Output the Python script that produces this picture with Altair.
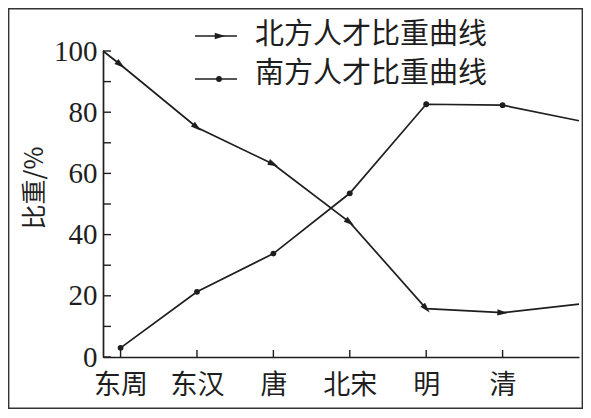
import json
import math
import altair as alt
import pandas as pd

# ---- data ----
categories = ["东周", "东汉", "唐", "北宋", "明", "清"]
# north series: starts at the y axis, then one value per category, then the right edge
north_start = 100
north_values = [95.5, 75, 63, 44, 15.8, 14.5]
north_end = 17.3
# south series: one value per category, then the right edge
south_values = [3, 21.3, 33.8, 53.5, 82.6, 82.3]
south_end = 77.2
y_ticks = [0, 10, 20, 30, 40, 50, 60, 70, 80, 90, 100]
y_labels = [0, 20, 40, 60, 80, 100]
legend_labels = ["北方人才比重曲线", "南方人才比重曲线"]
y_title = "比重/%"

# ---- layout ----
W, H = 476, 306
XMIN, XMAX = -0.23, len(categories)
INK = "#1e1e1e"
CJK = "Noto Sans CJK SC"
SERIF = "Liberation Serif"

px_x = W / (XMAX - XMIN)
px_y = H / 100.0

idx = list(range(len(categories)))
north_x = [XMIN] + idx + [XMAX]
north_y = [north_start] + north_values + [north_end]
north_df = pd.DataFrame({"x": north_x, "v": north_y})

# arrow markers at each category, pointing along the incoming segment
arrows = []
for k in range(1, len(idx) + 1):
    dx = (north_x[k] - north_x[k - 1]) * px_x
    dy = (north_y[k - 1] - north_y[k]) * px_y
    ang = math.degrees(math.atan2(dy, dx)) % 360
    arrows.append({"x": north_x[k], "v": north_y[k], "ang": ang})
arrow_df = pd.DataFrame(arrows)

south_df = pd.DataFrame({"x": idx + [XMAX], "v": south_values + [south_end]})
south_pts = pd.DataFrame({"x": idx, "v": south_values})

ytick_df = pd.DataFrame({"v": y_ticks})
xtick_df = pd.DataFrame({"x": idx})
one = pd.DataFrame({"a": [0]})

ARROW = "M-1,-0.6L1,0L-1,0.6Z"
ARROW_SIZE = 110

xscale = alt.Scale(domain=[XMIN, XMAX], nice=False, zero=False)
yscale = alt.Scale(domain=[0, 100], nice=False)

label_expr = json.dumps(categories, ensure_ascii=False) + "[datum.value]"

xaxis = alt.Axis(values=idx, labelExpr=label_expr, ticks=False, tickSize=0, grid=False,
                 domainColor=INK, domainWidth=1.7, labelFont=CJK, labelFontSize=27,
                 labelColor=INK, labelPadding=15, title=None, labelBaseline="top")
yaxis = alt.Axis(values=y_labels, ticks=False, tickSize=0, grid=False, domainColor=INK,
                 domainWidth=1.7, labelFont=SERIF, labelFontSize=29, labelColor=INK,
                 labelPadding=6, title=None, labelBaseline="middle")

X = alt.X("x:Q", scale=xscale, axis=xaxis)
Y = alt.Y("v:Q", scale=yscale, axis=yaxis)

north_line = alt.Chart(north_df).mark_line(color=INK, strokeWidth=1.7).encode(x=X, y=Y)
north_arrows = alt.Chart(arrow_df).mark_point(
    shape=ARROW, filled=True, color=INK, size=ARROW_SIZE, opacity=1
).encode(x=alt.X("x:Q", scale=xscale), y=alt.Y("v:Q", scale=yscale),
         angle=alt.Angle("ang:Q", scale=None))

south_line = alt.Chart(south_df).mark_line(color=INK, strokeWidth=1.7).encode(
    x=alt.X("x:Q", scale=xscale), y=alt.Y("v:Q", scale=yscale))
south_dots = alt.Chart(south_pts).mark_circle(color=INK, size=34, opacity=1).encode(
    x=alt.X("x:Q", scale=xscale), y=alt.Y("v:Q", scale=yscale))

yticks = alt.Chart(ytick_df).mark_rule(color=INK, strokeWidth=1.4).encode(
    y=alt.Y("v:Q", scale=yscale), x=alt.value(0), x2=alt.value(8))
xticks = alt.Chart(xtick_df).mark_rule(color=INK, strokeWidth=1.4).encode(
    x=alt.X("x:Q", scale=xscale), y=alt.value(H), y2=alt.value(H - 7))

frame = alt.Chart(one).mark_rect(fill="transparent", stroke="#333333", strokeWidth=1.8).encode(
    x=alt.value(-94.5), x2=alt.value(W + 3.5), y=alt.value(-42.5), y2=alt.value(H + 51.5))

# legend
leg1_line = alt.Chart(one).mark_rule(color=INK, strokeWidth=1.7).encode(
    x=alt.value(92), x2=alt.value(134), y=alt.value(-15))
leg1_sym = alt.Chart(one).mark_point(shape=ARROW, filled=True, color=INK, size=ARROW_SIZE,
                                     opacity=1).encode(
    x=alt.value(117), y=alt.value(-15))
leg1_txt = alt.Chart(one).mark_text(font=CJK, fontSize=29, color=INK, align="left",
                                   baseline="middle", text=legend_labels[0]).encode(
    x=alt.value(152), y=alt.value(-16))
leg2_line = alt.Chart(one).mark_rule(color=INK, strokeWidth=1.7).encode(
    x=alt.value(92), x2=alt.value(134), y=alt.value(28))
leg2_sym = alt.Chart(one).mark_circle(color=INK, size=34, opacity=1).encode(
    x=alt.value(116), y=alt.value(28))
leg2_txt = alt.Chart(one).mark_text(font=CJK, fontSize=29, color=INK, align="left",
                                   baseline="middle", text=legend_labels[1]).encode(
    x=alt.value(152), y=alt.value(23))

ytitle = alt.Chart(one).mark_text(font=CJK, fontSize=25, color=INK, angle=270,
                                  align="center", baseline="middle", text=y_title).encode(
    x=alt.value(-68), y=alt.value(137))

chart = alt.layer(
    frame, north_line, yticks, xticks, north_arrows, south_line, south_dots,
    leg1_line, leg1_sym, leg1_txt, leg2_line, leg2_sym, leg2_txt, ytitle
).properties(
    width=W, height=H,
    padding={"left": 95, "top": 43, "right": 4, "bottom": 52},
    autosize=alt.AutoSizeParams(type="none"),
).configure_view(stroke=None)

chart.save("out.html", embed_options={"renderer": "svg", "actions": False})
